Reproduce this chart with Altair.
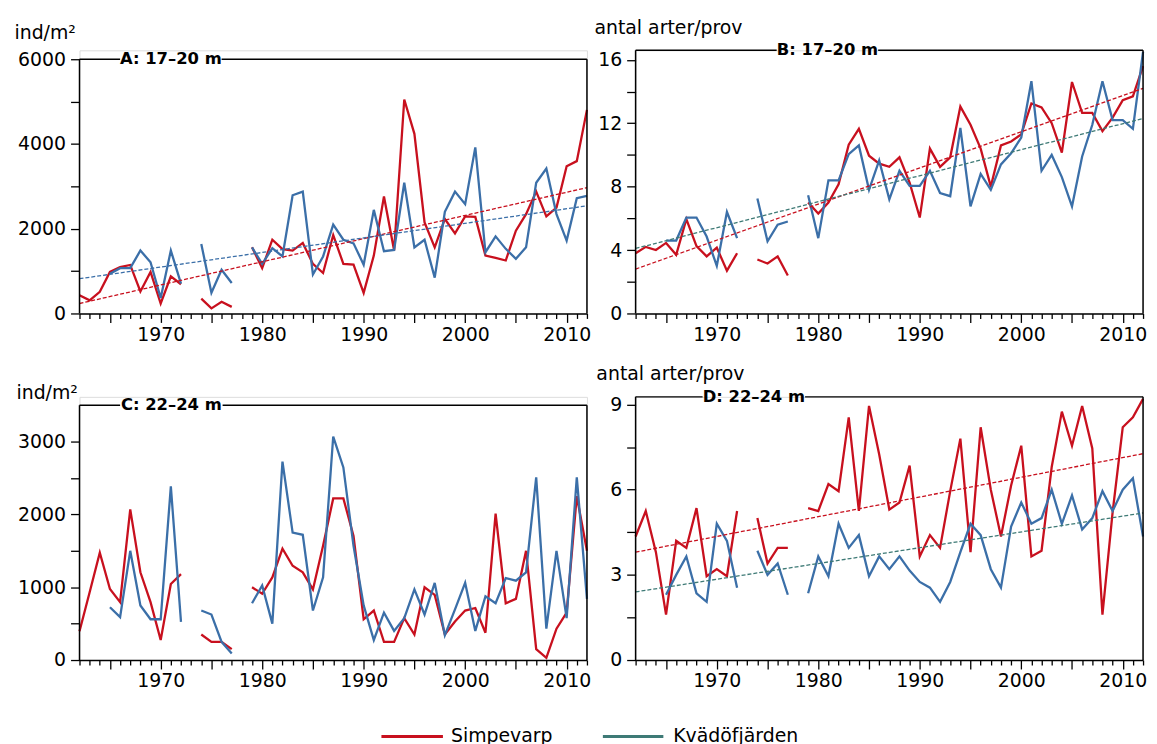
import altair as alt
import pandas as pd

N = None
YEARS = list(range(1962, 2013))
SERIES = ["Simpevarp", "Kvädöfjärden"]

RED = "#c8101e"
BLUE = "#3b6fa8"
TEAL = "#3e7a76"

# Panel A: ind/m², 17–20 m
a_simp = [430, 310, 510, 980, 1095, 1145, 520, 980, 235, 875,
          690, N, 350, 120, 275, 155, N, 1560, 1070, 1740,
          1520, 1485, 1665, 1170, 955, 1850, 1170, 1155, 485, 1365,
          2760, 1485, 5050, 4240, 2150, 1560, 2230, 1890, 2290, 2280,
          1365, 1310, 1250, 1955, 2345, 2875, 2290, 2500, 3475, 3595,
          4805]
a_kva = [N, N, N, 940, 1070, 1070, 1485, 1210, 365, 1485,
         705, N, 1640, 490, 1030, 720, N, 1560, 1170, 1540,
         1345, 2790, 2875, 920, 1345, 2095, 1740, 1655, 1150, 2445,
         1470, 1500, 3085, 1560, 1740, 845, 2400, 2875, 2580, 3920,
         1445, 1820, 1525, 1290, 1560, 3085, 3420, 2345, 1720, 2720,
         2775]
a_trend_simp = [235, 2970]
a_trend_kva = [820, 2540]

# Panel B: antal arter/prov, 17–20 m
b_simp = [3.8, 4.2, 4.0, 4.45, 3.7, 5.95, 4.25, 3.6, 4.15, 2.7,
          3.8, N, 3.4, 3.15, 3.6, 2.4, N, 7.0, 6.3, 7.0,
          8.15, 10.65, 11.65, 9.95, 9.45, 9.25, 9.85, 8.25, 6.05, 10.4,
          9.25, 9.85, 13.05, 11.9, 10.4, 8.0, 10.6, 10.85, 11.3, 13.25,
          13.0, 12.0, 10.15, 14.6, 12.65, 12.65, 11.5, 12.35, 13.45, 13.7,
          15.6]
b_kva = [N, N, N, 4.6, 4.6, 6.05, 6.05, 4.85, 3.0, 6.4,
         4.75, N, 7.25, 4.55, 5.6, 5.8, N, 7.45, 4.75, 8.4,
         8.4, 10.05, 10.6, 7.8, 9.65, 7.2, 9.0, 8.05, 8.05, 9.0,
         7.6, 7.4, 11.7, 6.75, 8.8, 7.8, 9.4, 10.1, 11.1, 14.65,
         9.0, 10.0, 8.6, 6.75, 9.9, 11.9, 14.65, 12.2, 12.2, 11.65,
         16.5]
b_trend_simp = [2.8, 14.2]
b_trend_kva = [4.1, 12.3]

# Panel C: ind/m², 22–24 m
c_simp = [395, 930, 1475, 975, 795, 2070, 1205, 795, 275, 1045,
          1180, N, 350, 250, 250, 150, N, 1000, 910, 1135,
          1530, 1295, 1205, 970, 1570, 2220, 2220, 1705, 560, 680,
          250, 250, 575, 350, 1000, 895, 350, 530, 680, 715,
          375, 2010, 780, 840, 1500, 150, 30, 430, 650, 2250,
          1500]
c_kva = [N, N, N, 725, 590, 1500, 750, 560, 560, 2385,
         525, N, 680, 625, 250, 90, N, 780, 1025, 500,
         2725, 1750, 1720, 680, 1135, 3070, 2645, 1570, 750, 275,
         650, 400, 575, 970, 625, 1060, 340, 695, 1060, 400,
         875, 780, 1125, 1090, 1205, 2510, 430, 1500, 575, 2510,
         840]

# Panel D: antal arter/prov, 22–24 m
d_simp = [4.35, 5.25, 3.8, 1.6, 4.2, 3.95, 5.35, 2.95, 3.2, 2.95,
          5.25, N, 5.0, 3.4, 3.95, 3.95, N, 5.35, 5.25, 6.2,
          5.95, 8.55, 5.25, 8.95, 7.25, 5.3, 5.55, 6.85, 3.65, 4.4,
          3.95, 5.95, 7.8, 3.8, 8.2, 6.0, 4.35, 6.15, 7.55, 3.65,
          3.85, 6.8, 8.75, 7.55, 8.95, 7.45, 1.6, 5.2, 8.2, 8.55,
          9.2]
d_kva = [N, N, N, 2.3, 3.0, 3.65, 2.35, 2.05, 4.8, 4.2,
         2.55, N, 3.85, 3.0, 3.4, 2.3, N, 2.35, 3.65, 2.95,
         4.8, 3.95, 4.4, 2.95, 3.65, 3.2, 3.65, 3.15, 2.75, 2.55,
         2.05, 2.75, 3.8, 4.8, 4.4, 3.2, 2.55, 4.7, 5.55, 4.8,
         5.0, 6.0, 4.8, 5.8, 4.6, 5.0, 5.95, 5.25, 6.0, 6.4,
         4.35]
d_trend_simp = [3.8, 7.27]
d_trend_kva = [2.4, 5.18]

# legend key, placed below panel C in its own data units
LEGEND_LINE_START = [1991.75, 2013.57]
LEGEND_LINE_END = [1997.81, 2019.53]
LEGEND_TEXT_AT = [1998.6, 2020.5]
LEGEND_LEVEL = -1050

TREND_YEARS = [1962, 2012]
FONT = "DejaVu Sans"
W = 511
H = 265


def panel(simp, kva, ymax, frame_top, tick_values, label_step, title, title_gap,
          ytitle, ytitle_x, ytitle_y, trend_simp=None, trend_kva=None,
          trend_kva_color=TEAL, with_legend=False):
    df = pd.DataFrame({
        "year": YEARS * 2,
        "value": simp + kva,
        "series": [SERIES[0]] * len(YEARS) + [SERIES[1]] * len(YEARS),
    })
    x = alt.X("year:Q", scale=alt.Scale(domain=[1962, 2012], nice=False, zero=False),
              axis=alt.Axis(values=YEARS, format="d", title=None, grid=False,
                            tickSize={"condition": {"test": "datum.value % 5 === 0", "value": 9},
                                      "value": 5},
                            labelExpr="datum.value % 10 === 0 ? datum.label : ''",
                            labelOverlap=False, labelFlush=False, labelPadding=3,
                            labelFontSize=19, labelFont=FONT, labelColor="black",
                            tickColor="black", tickWidth=1.3,
                            domainColor="black", domainWidth=1.5))
    y = alt.Y("value:Q", scale=alt.Scale(domain=[0, ymax], nice=False, zero=True),
              axis=alt.Axis(values=tick_values, format="d", grid=False, domain=False,
                            labelExpr=f"datum.value % {label_step} === 0 ? datum.label : ''",
                            labelOverlap=False, labelPadding=5, tickSize=9,
                            tickColor="black", tickWidth=1.3,
                            labelFontSize=19, labelFont=FONT, labelColor="black",
                            title=ytitle, titleAngle=0, titleAlign="left",
                            titleBaseline="alphabetic", titleX=ytitle_x, titleY=ytitle_y,
                            titleFontSize=19, titleFont=FONT, titleFontWeight="normal",
                            titleColor="black"))

    layers = []
    lines = alt.Chart(df).mark_line(strokeWidth=2.3, invalid="break-paths-show-domains").encode(
        x=x, y=y,
        stroke=alt.Stroke("series:N", scale=alt.Scale(domain=SERIES, range=[RED, BLUE]), legend=None),
    )
    layers.append(lines)

    if trend_simp is not None:
        ts = pd.DataFrame({"year": TREND_YEARS, "value": trend_simp})
        tk = pd.DataFrame({"year": TREND_YEARS, "value": trend_kva})
        layers.append(alt.Chart(ts).mark_line(strokeWidth=1.3, strokeDash=[4, 2], color=RED)
                      .encode(x=x, y=y))
        layers.append(alt.Chart(tk).mark_line(strokeWidth=1.3, strokeDash=[4, 2], color=trend_kva_color)
                      .encode(x=x, y=y))

    # frame: left and right sides
    sides = pd.DataFrame({"year": [1962, 2012], "value": [0, 0], "value2": [frame_top, frame_top]})
    layers.append(alt.Chart(sides).mark_rule(color="black", strokeWidth=1.5)
                  .encode(x=x, y=y, y2="value2:Q"))
    # frame: top, broken by the panel title
    top = pd.DataFrame({"year": [1962, title_gap[1]], "year2": [title_gap[0], 2012],
                        "value": [frame_top, frame_top]})
    layers.append(alt.Chart(top).mark_rule(color="black", strokeWidth=1.5)
                  .encode(x=x, x2="year2:Q", y=y))
    lab = pd.DataFrame({"year": [(title_gap[0] + title_gap[1]) / 2], "value": [frame_top],
                        "label": [title]})
    layers.append(alt.Chart(lab).mark_text(font=FONT, fontSize=16.5, fontWeight="bold",
                                           align="center", baseline="middle", color="black")
                  .encode(x=x, y=y, text="label:N"))

    if with_legend:
        key = pd.DataFrame({"year": LEGEND_LINE_START, "year2": LEGEND_LINE_END,
                            "value": [LEGEND_LEVEL, LEGEND_LEVEL], "site": SERIES})
        layers.append(alt.Chart(key).mark_rule(strokeWidth=3, clip=False).encode(
            x=x, x2="year2:Q", y=y,
            color=alt.Color("site:N", scale=alt.Scale(domain=SERIES, range=[RED, TEAL]),
                            legend=None),
        ))
        key_text = pd.DataFrame({"year": LEGEND_TEXT_AT, "value": [LEGEND_LEVEL, LEGEND_LEVEL],
                                 "label": SERIES})
        layers.append(alt.Chart(key_text).mark_text(font=FONT, fontSize=19, align="left",
                                                    baseline="middle", color="black", clip=False)
                      .encode(x=x, y=y, text="label:N"))

    return alt.layer(*layers).properties(width=W, height=H)


A = panel(a_simp, a_kva, 6000 * H / 256, 6000, list(range(0, 6001, 1000)), 2000,
          "A: 17–20 m", [1966.0, 1976.0], "ind/m²", -66, -11.5,
          a_trend_simp, a_trend_kva, trend_kva_color=BLUE)
B = panel(b_simp, b_kva, 16.6, 16.6, list(range(0, 17, 2)), 4,
          "B: 17–20 m", [1975.9, 1985.9], "antal arter/prov", -42, -16.5,
          b_trend_simp, b_trend_kva, trend_kva_color=TEAL)
C = panel(c_simp, c_kva, 3500 * H / 256.6, 3500, list(range(0, 3001, 500)), 1000,
          "C: 22–24 m", [1966.0, 1976.1], "ind/m²", -64, 1.3, with_legend=True)
D = panel(d_simp, d_kva, 9.27, 9.27, [0, 1.5, 3, 4.5, 6, 7.5, 9], 3,
          "D: 22–24 m", [1968.6, 1978.7], "antal arter/prov", -40, -17.7,
          d_trend_simp, d_trend_kva, trend_kva_color=TEAL)

chart = alt.concat(
    A, B, C, D, columns=2,
    spacing={"row": 84, "column": 49}, bounds="flush",
).properties(
    padding={"left": 5, "top": 8, "right": 0, "bottom": 0}
).configure_view(stroke=None).configure(font=FONT)

chart.save("out.html", embed_options={"renderer": "svg", "actions": False})
